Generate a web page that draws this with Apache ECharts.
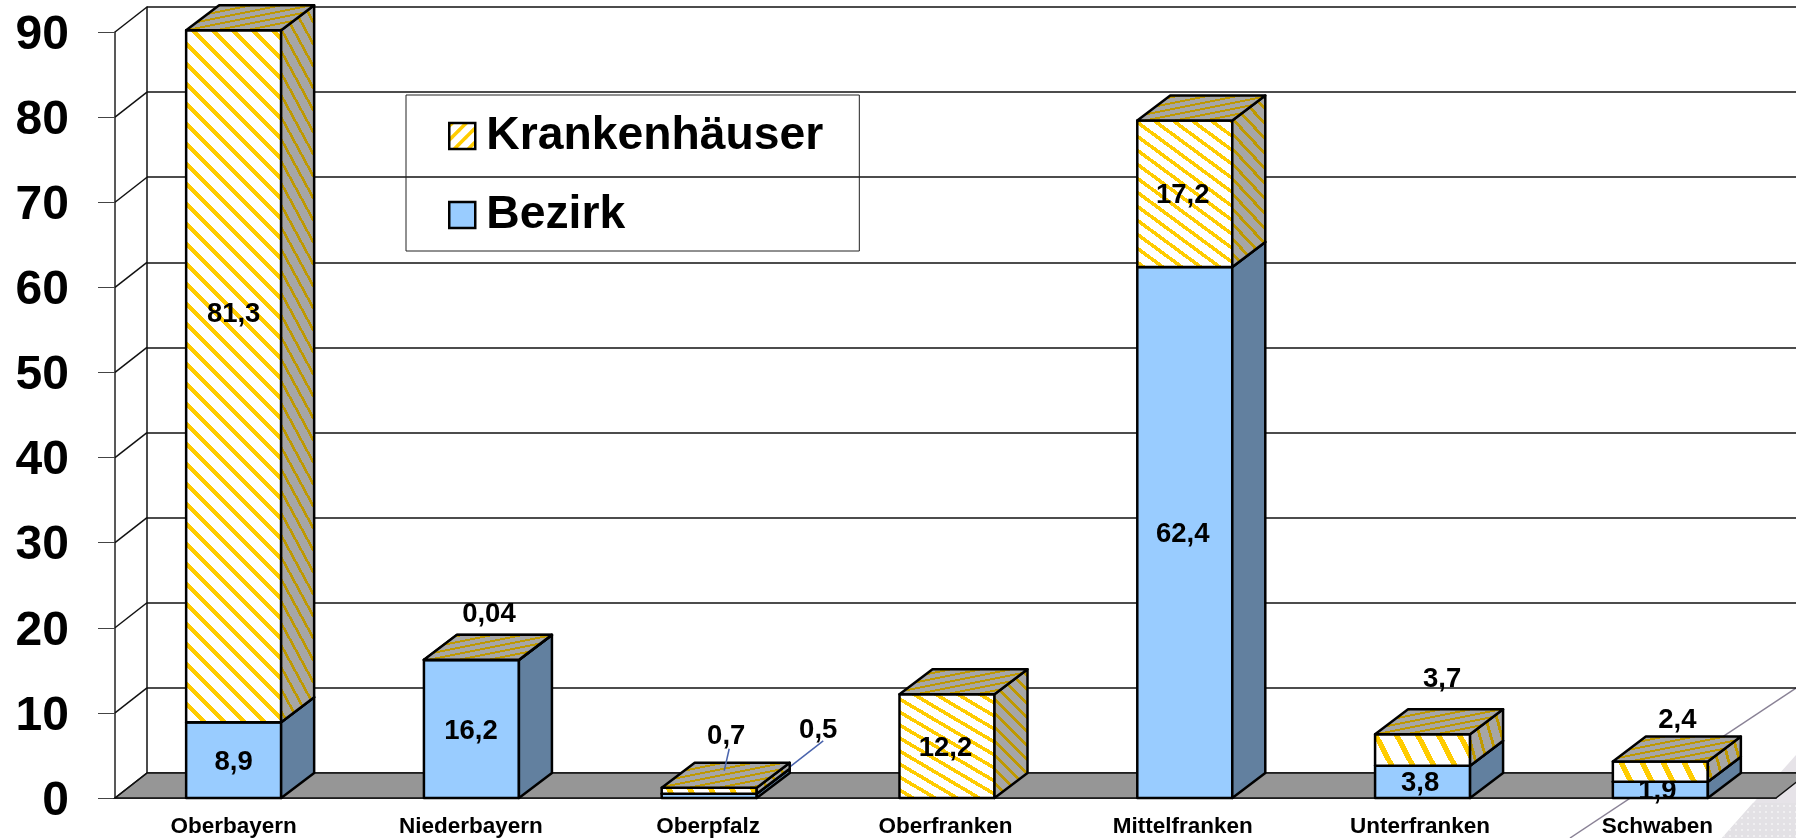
<!DOCTYPE html>
<html>
<head>
<meta charset="utf-8">
<title>Krankenhäuser / Bezirk</title>
<script src="https://cdn.jsdelivr.net/npm/echarts@6/dist/echarts.min.js"></script>
<style>
html,body{margin:0;padding:0;background:#fff;}
#main{width:1796px;height:838px;}
</style>
</head>
<body>
<div id="main"></div>
<script>
var categories = ['Oberbayern', 'Niederbayern', 'Oberpfalz', 'Oberfranken', 'Mittelfranken', 'Unterfranken', 'Schwaben'];
var bezirk = [8.9, 16.2, 0.5, 0, 62.4, 3.8, 1.9];
var krankenhaeuser = [81.3, 0.04, 0.7, 12.2, 17.2, 3.7, 2.4];
var yTicks = [0, 10, 20, 30, 40, 50, 60, 70, 80, 90];

// label nudges in px, from the middle of the front face
var bezirkShift = [[0, 0], [0, 0], [110, -67], [0, 0], [0, 0], [0, 0], [0, 0]];
var krankenShift = [[0, -64], [18, -48], [18, -56], [0, 0], [0, 0], [22, -72], [20, -53]];
// leader lines of the two small Oberpfalz labels
var bezirkLeader = { 2: [[115, -55], [65, -16]] };
var krankenLeader = { 2: [[21, -42], [16, -20]] };
// stripe tiles of each block (they get stretched in the original)
var frontTile = [[20, 20], [20, 20], [21, 40], [22, 13], [19, 14], [21, 40], [21, 40]];
var sideTile = [[12, 22], [12, 22], [12, 22], [14, 14], [14, 15], [11, 40], [11, 40]];

var FONT = '"Liberation Sans", Arial, sans-serif';
var WALL_DX = 32, DX = 33, DY = 25, BAR_W = 95;
var BAR_DRIFT = 0.5; // blocks sit a touch wider apart than the ticks

// one period of diagonal stripes, drawn row by row so the steps stay hard
function stripes(w, h, base, ink, part, rising) {
    var c = document.createElement('canvas');
    c.width = w; c.height = h;
    var g = c.getContext('2d');
    g.fillStyle = base;
    g.fillRect(0, 0, w, h);
    g.fillStyle = ink;
    for (var y = 0; y < h; y++) {
        var x0 = Math.round((rising ? h - y : y) * w / h);
        var len = Math.round(w * part);
        g.fillRect(x0, y, len, 1);
        g.fillRect(x0 - w, y, len, 1);
    }
    return { image: c, repeat: 'repeat' };
}

function dots() {
    var c = document.createElement('canvas');
    c.width = 6; c.height = 6;
    var g = c.getContext('2d');
    g.fillStyle = '#e3e1e5';
    g.fillRect(0, 0, 6, 6);
    g.fillStyle = '#f0eff1';
    g.fillRect(1, 1, 2, 2);
    return { image: c, repeat: 'repeat' };
}

var topFill = stripes(30, 6, '#a6a6a6', '#bf9900', 0.34, true);
var legendFill = stripes(14, 14, '#ffffff', '#ffcc00', 0.36, true);
var frontFills = frontTile.map(function (t) {
    return stripes(t[0], t[1], '#ffffff', '#ffcc00', 0.3, false);
});
var sideFills = sideTile.map(function (t) {
    return stripes(t[0], t[1], '#a6a6a6', '#bf9900', 0.28, false);
});

function comma(v) {
    return String(v).replace('.', ',');
}

// base and top of each block, blue at the bottom
function stackRows(values, under) {
    return values.map(function (v, i) {
        var base = under ? under[i] : 0;
        return [i, base, base + v, v];
    });
}

function pick(fill, i) {
    return typeof fill === 'function' ? fill(i) : fill;
}

function blockRender(front, side, roof, shift, leader) {
    return function (params, api) {
        var i = api.value(0), value = api.value(3);
        var low = api.coord([i, api.value(1)]);
        var high = api.coord([i, api.value(2)]);
        var cx = low[0] + i * BAR_DRIFT;
        var x0 = cx - BAR_W / 2, x1 = cx + BAR_W / 2;
        var y0 = low[1], y1 = high[1];
        var edge = { stroke: '#000', lineWidth: 2.5, lineJoin: 'round' };
        var kids = [];
        if (value > 0) {
            kids.push({ type: 'polygon', shape: { points: [[x0, y0], [x1, y0], [x1, y1], [x0, y1]] },
                style: Object.assign({ fill: pick(front, i) }, edge) });
            kids.push({ type: 'polygon', shape: { points: [[x1, y0], [x1 + DX, y0 - DY], [x1 + DX, y1 - DY], [x1, y1]] },
                style: Object.assign({ fill: pick(side, i) }, edge) });
            kids.push({ type: 'polygon', shape: { points: [[x0, y1], [x1, y1], [x1 + DX, y1 - DY], [x0 + DX, y1 - DY]] },
                style: Object.assign({ fill: roof }, edge) });
            var cy = (y0 + y1) / 2;
            if (leader[i]) {
                kids.push({ type: 'line', shape: {
                    x1: low[0] + leader[i][0][0], y1: cy + leader[i][0][1],
                    x2: low[0] + leader[i][1][0], y2: cy + leader[i][1][1]
                }, style: { stroke: '#4a64ad', lineWidth: 1.5 } });
            }
            kids.push({ type: 'text', style: {
                x: low[0] + shift[i][0], y: cy + shift[i][1] + 2, text: comma(value),
                align: 'center', verticalAlign: 'middle',
                font: 'bold 27.5px ' + FONT, fill: '#000'
            } });
        }
        return { type: 'group', children: kids };
    };
}

var option = {
    animation: false,
    backgroundColor: '#fff',
    textStyle: { fontFamily: FONT },
    graphic: [
        { type: 'polygon', z: -1, shape: { points: [[1722, 838], [1796, 755], [1796, 838]] },
          style: { fill: '#e6e3e8' } },
        { type: 'polygon', z: -1, shape: { points: [[1722, 838], [1753, 803], [1796, 803], [1796, 838]] },
          style: { fill: dots() } },
        { type: 'line', z: -1, shape: { x1: 1570, y1: 838, x2: 1796, y2: 688 },
          style: { stroke: '#8a8296', lineWidth: 1.5 } }
    ],
    legend: {
        left: 406, top: 95, orient: 'vertical',
        backgroundColor: 'transparent',
        borderColor: '#222', borderWidth: 1,
        padding: [18, 36, 13, 42],
        itemGap: 33, itemWidth: 26, itemHeight: 26,
        textStyle: { fontSize: 46.3, fontWeight: 'bold', color: '#000', fontFamily: FONT, lineHeight: 46, padding: [0, 0, 0, 6] },
        data: [
            { name: 'Krankenhäuser', icon: 'rect', itemStyle: { color: legendFill, borderColor: '#000', borderWidth: 2.5 } },
            { name: 'Bezirk', icon: 'rect', itemStyle: { color: '#99ccff', borderColor: '#000', borderWidth: 2.5 } }
        ]
    },
    grid: [
        { left: 115, right: 20, top: 32, bottom: 40 },
        { left: 115 + WALL_DX, width: 1661, top: 32 - DY, height: 766 }
    ],
    xAxis: [
        { type: 'category', gridIndex: 0, data: categories,
          axisLine: { lineStyle: { color: '#111', width: 1.5 } },
          axisTick: { alignWithLabel: false, length: 7, lineStyle: { color: '#666', width: 1 } },
          axisLabel: { fontSize: 22.5, fontWeight: 'bold', color: '#000', margin: 17, interval: 0, fontFamily: FONT } },
        { type: 'category', gridIndex: 1, data: categories, show: false }
    ],
    yAxis: [
        { type: 'value', gridIndex: 0, min: 0, max: 90, interval: 10,
          splitLine: { show: false },
          axisLine: { show: true, lineStyle: { color: '#222', width: 1.5 } },
          axisTick: { show: true, length: 17, lineStyle: { color: '#444', width: 1 } },
          axisLabel: { margin: 46, formatter: '{v|{value}}',
              rich: { v: { fontSize: 48, fontWeight: 'bold', color: '#000', fontFamily: FONT, padding: [7, 0, 0, 0] } } } },
        { type: 'value', gridIndex: 1, min: 0, max: 90, interval: 10,
          splitLine: { show: true, lineStyle: { color: '#111', width: 1.5 } },
          axisLine: { show: true, lineStyle: { color: '#111', width: 1.5 } },
          axisTick: { show: false }, axisLabel: { show: false } }
    ],
    series: [
        // floor, from the front axis to the back wall
        { type: 'custom', name: 'floor', xAxisIndex: 0, yAxisIndex: 0, z: 1, silent: true, clip: false,
          data: [[0]],
          renderItem: function (params, api) {
              var o = api.coord([0, 0]);
              var left = params.coordSys.x, right = left + params.coordSys.width;
              return { type: 'polygon', shape: { points: [[left, o[1]], [right, o[1]], [right + WALL_DX, o[1] - DY], [left + WALL_DX, o[1] - DY]] },
                  style: { fill: '#969696', stroke: '#111', lineWidth: 1.5 } };
          } },
        // slanted lines on the left wall
        { type: 'custom', name: 'wall', xAxisIndex: 0, yAxisIndex: 0, z: 1, silent: true, clip: false,
          data: yTicks.map(function (t) { return [t]; }),
          renderItem: function (params, api) {
              var p = api.coord([0, api.value(0)]);
              var left = params.coordSys.x;
              return { type: 'line', shape: { x1: left, y1: p[1], x2: left + WALL_DX, y2: p[1] - DY },
                  style: { stroke: '#111', lineWidth: 1.5 } };
          } },
        { type: 'custom', name: 'Bezirk', xAxisIndex: 0, yAxisIndex: 0, z: 3, clip: false,
          itemStyle: { color: '#99ccff' },
          encode: { x: 0, y: [1, 2] },
          data: stackRows(bezirk),
          renderItem: blockRender('#99ccff', '#62809f', '#7d9cc0', bezirkShift, bezirkLeader) },
        { type: 'custom', name: 'Krankenhäuser', xAxisIndex: 0, yAxisIndex: 0, z: 4, clip: false,
          itemStyle: { color: '#ffcc00' },
          encode: { x: 0, y: [1, 2] },
          data: stackRows(krankenhaeuser, bezirk),
          renderItem: blockRender(function (i) { return frontFills[i]; }, function (i) { return sideFills[i]; }, topFill, krankenShift, krankenLeader) }
    ]
};

var myChart = echarts.init(document.getElementById('main'));
myChart.setOption(option);
window.onresize = myChart.resize;
</script>
</body>
</html>
